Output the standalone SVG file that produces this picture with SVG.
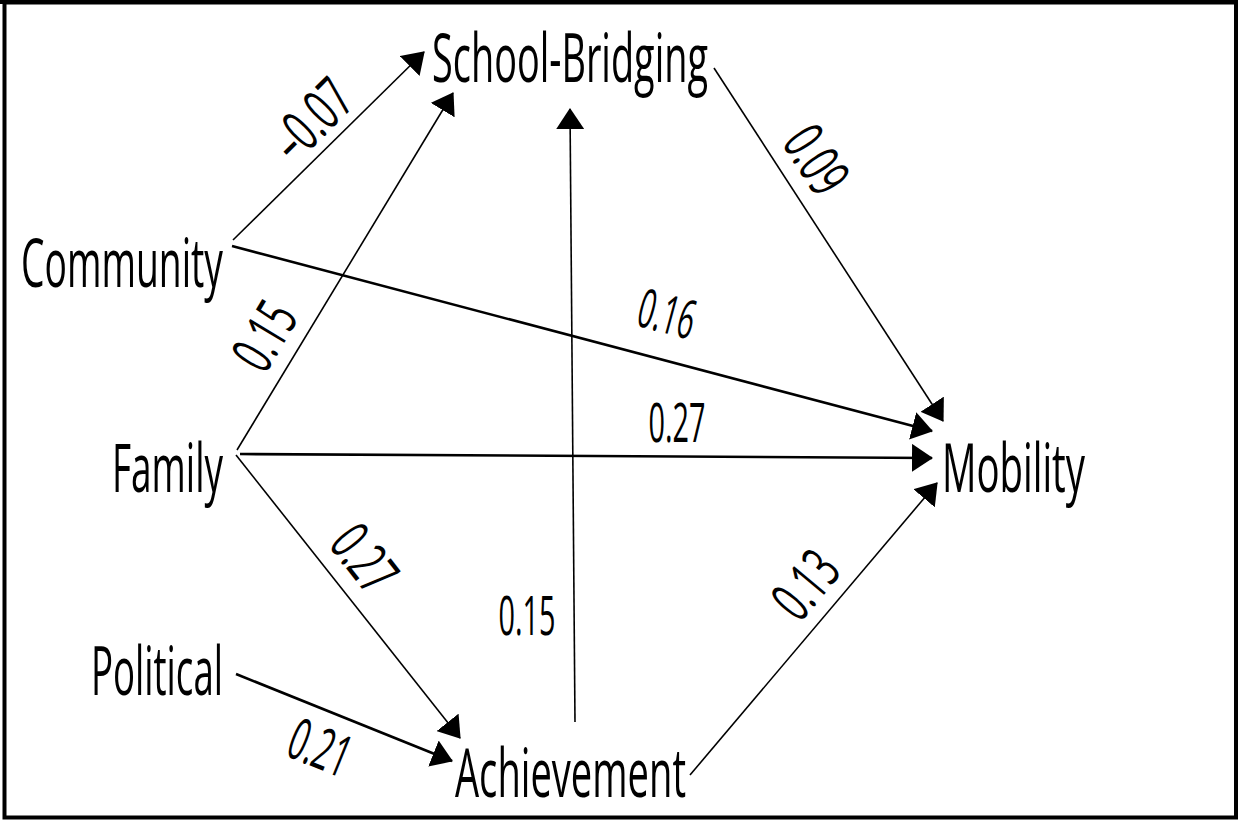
<svg xmlns="http://www.w3.org/2000/svg" width="1238" height="820" viewBox="0 0 1238 820">
<style>
.node{font-family:"Open Sans","Liberation Sans",sans-serif;font-size:68px;fill:#000}
.lbl{font-family:"Open Sans","Liberation Sans",sans-serif;font-size:54px;fill:#000;text-anchor:middle}
.rl{font-size:58px}
.e{stroke:#000;fill:none;stroke-width:1.6;marker-end:url(#ah)}
.t{stroke-width:2.6}
</style>
<defs>
<marker id="ah" markerUnits="userSpaceOnUse" markerWidth="22" markerHeight="28" refX="20" refY="14" orient="auto" viewBox="0 0 22 28">
<path d="M0,0 L21,14 L0,28 z" fill="#000"/>
</marker>
</defs>
<rect x="0" y="0" width="1238" height="820" fill="#fff"/>
<rect x="4.5" y="2.5" width="1231.5" height="815" fill="none" stroke="#000" stroke-width="4"/>
<line x1="0" y1="2" x2="1238" y2="2" stroke="#000" stroke-width="4"/>
<g id="connectors">
<line class="e" x1="233" y1="240" x2="424" y2="52"/>
<line class="e t" x1="232" y1="246" x2="932" y2="431"/>
<line class="e" x1="237" y1="450" x2="453" y2="93"/>
<line class="e t" x1="240" y1="454" x2="932" y2="458"/>
<line class="e" x1="236" y1="455" x2="460" y2="738"/>
<line class="e t" x1="236" y1="674" x2="452" y2="761"/>
<line class="e" x1="575" y1="722" x2="570" y2="109"/>
<line class="e" x1="690" y1="775" x2="937" y2="483"/>
<line class="e" x1="714" y1="68" x2="943" y2="421"/>
</g>
<g id="labels">
<text class="lbl rl" transform="translate(312,120) rotate(-45)" y="20" textLength="88" lengthAdjust="spacingAndGlyphs">–0.07</text>
<text class="lbl rl" transform="translate(816,160) rotate(57)" y="20" textLength="68" lengthAdjust="spacingAndGlyphs">0.09</text>
<text class="lbl" transform="translate(667,314) rotate(15)" y="19" textLength="57" lengthAdjust="spacingAndGlyphs">0.16</text>
<text class="lbl rl" transform="translate(265,336) rotate(-59)" y="20" textLength="68" lengthAdjust="spacingAndGlyphs">0.15</text>
<text class="lbl" x="677" y="442" textLength="57" lengthAdjust="spacingAndGlyphs">0.27</text>
<text class="lbl rl" transform="translate(364,559) rotate(52)" y="20" textLength="68" lengthAdjust="spacingAndGlyphs">0.27</text>
<text class="lbl" x="527" y="635" textLength="57" lengthAdjust="spacingAndGlyphs">0.15</text>
<text class="lbl rl" transform="translate(806,585) rotate(-50)" y="20" textLength="68" lengthAdjust="spacingAndGlyphs">0.13</text>
<text class="lbl rl" transform="translate(320,748) rotate(22)" y="20" textLength="62" lengthAdjust="spacingAndGlyphs">0.21</text>
</g>
<g id="node-school"><text class="node" x="432" y="82" textLength="276" lengthAdjust="spacingAndGlyphs">School-Bridging</text></g>
<g id="node-community"><text class="node" x="21" y="287" textLength="202" lengthAdjust="spacingAndGlyphs">Community</text></g>
<g id="node-family"><text class="node" x="112" y="492" textLength="111" lengthAdjust="spacingAndGlyphs">Family</text></g>
<g id="node-mobility"><text class="node" x="942" y="492" textLength="143" lengthAdjust="spacingAndGlyphs">Mobility</text></g>
<g id="node-political"><text class="node" x="91" y="695" textLength="132" lengthAdjust="spacingAndGlyphs">Political</text></g>
<g id="node-achievement"><text class="node" x="455" y="797" textLength="231" lengthAdjust="spacingAndGlyphs">Achievement</text></g>
</svg>
